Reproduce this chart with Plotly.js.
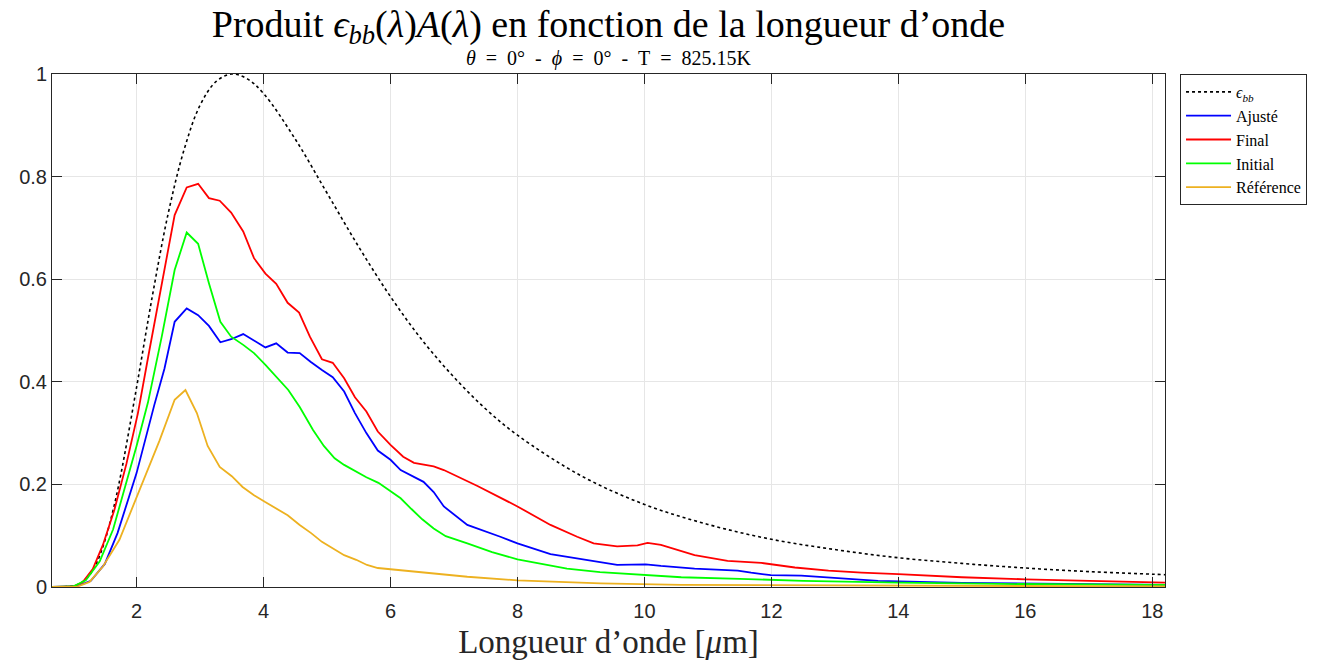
<!DOCTYPE html>
<html>
<head>
<meta charset="utf-8">
<script src="https://cdn.plot.ly/plotly-3.0.1.min.js"></script>
<style>html,body{margin:0;padding:0;background:#fff;}#chart{width:1330px;height:663px;}</style>
</head>
<body>
<div id="chart"></div>
<script>
// Wavelength [µm] and values
const lamBB = [0.67, 0.8, 1.0, 1.1, 1.25, 1.375, 1.5, 1.625, 1.75, 2.0, 2.25, 2.5, 2.75, 3.0, 3.25, 3.5, 3.75, 4.0, 4.5, 5.0, 5.5, 6.0, 6.5, 7.0, 7.5, 8.0, 9.0, 10, 11, 12, 13, 14, 15, 16, 17, 18, 18.2];
const valBB = [0, 0.0001, 0.002, 0.006, 0.022, 0.048, 0.090, 0.147, 0.218, 0.389, 0.568, 0.729, 0.853, 0.939, 0.985, 1.0, 0.990, 0.962, 0.873, 0.768, 0.663, 0.566, 0.481, 0.409, 0.347, 0.296, 0.217, 0.161, 0.122, 0.093, 0.073, 0.057, 0.046, 0.037, 0.030, 0.025, 0.024];

const lamAdj = [0.67, 1.05, 1.28, 1.5, 1.7, 1.91, 2.0, 2.28, 2.44, 2.6, 2.79, 2.97, 3.14, 3.32, 3.49, 3.68, 3.85, 4.03, 4.2, 4.38, 4.57, 4.74, 4.92, 5.09, 5.27, 5.44, 5.62, 5.8, 6.0, 6.16, 6.52, 6.68, 6.84, 7.21, 7.73, 8.0, 8.52, 9.05, 9.57, 10.02, 10.26, 10.79, 11.47, 11.68, 11.99, 12.47, 13.0, 13.68, 15.0, 16.5, 18.2];
const valAdj = [0, 0.001, 0.012, 0.045, 0.105, 0.185, 0.222, 0.355, 0.426, 0.517, 0.543, 0.530, 0.509, 0.477, 0.483, 0.493, 0.480, 0.467, 0.475, 0.457, 0.456, 0.439, 0.423, 0.409, 0.381, 0.339, 0.300, 0.266, 0.248, 0.228, 0.205, 0.185, 0.157, 0.121, 0.098, 0.085, 0.064, 0.053, 0.043, 0.044, 0.041, 0.036, 0.032, 0.028, 0.023, 0.022, 0.018, 0.012, 0.008, 0.006, 0.004];

const lamFinal = [0.67, 1.0, 1.15, 1.31, 1.47, 1.65, 1.84, 2.02, 2.2, 2.4, 2.6, 2.79, 2.97, 3.14, 3.31, 3.49, 3.68, 3.85, 4.03, 4.2, 4.38, 4.56, 4.73, 4.92, 5.09, 5.27, 5.44, 5.62, 5.8, 6.0, 6.2, 6.37, 6.68, 6.84, 7.37, 8.0, 8.52, 8.94, 9.2, 9.57, 9.89, 10.05, 10.26, 10.79, 11.31, 11.84, 12.37, 12.9, 13.42, 14.0, 15.0, 16.0, 17.0, 18.2];
const valFinal = [0, 0.001, 0.009, 0.035, 0.082, 0.150, 0.240, 0.338, 0.460, 0.592, 0.725, 0.779, 0.786, 0.758, 0.753, 0.730, 0.693, 0.641, 0.611, 0.591, 0.554, 0.535, 0.488, 0.444, 0.437, 0.407, 0.370, 0.342, 0.303, 0.277, 0.254, 0.242, 0.235, 0.228, 0.197, 0.157, 0.121, 0.098, 0.085, 0.079, 0.081, 0.086, 0.082, 0.062, 0.051, 0.047, 0.038, 0.032, 0.028, 0.025, 0.019, 0.015, 0.012, 0.0085];

const lamInit = [0.67, 1.0, 1.2, 1.42, 1.63, 1.81, 2.0, 2.18, 2.4, 2.6, 2.79, 2.97, 3.14, 3.32, 3.49, 3.68, 3.85, 4.03, 4.2, 4.39, 4.57, 4.78, 4.95, 5.12, 5.27, 5.44, 5.62, 5.81, 5.98, 6.16, 6.33, 6.5, 6.68, 6.87, 7.21, 7.6, 8.0, 8.78, 9.3, 10.02, 10.58, 11.5, 12.5, 14.0, 15.6, 18.2];
const valInit = [0, 0.001, 0.013, 0.050, 0.112, 0.190, 0.275, 0.360, 0.49, 0.618, 0.691, 0.669, 0.592, 0.517, 0.488, 0.472, 0.456, 0.433, 0.410, 0.384, 0.351, 0.306, 0.275, 0.251, 0.238, 0.226, 0.214, 0.203, 0.189, 0.173, 0.152, 0.132, 0.114, 0.099, 0.085, 0.068, 0.054, 0.036, 0.029, 0.023, 0.019, 0.016, 0.012, 0.0085, 0.006, 0.004];

const lamRef = [0.67, 1.05, 1.26, 1.47, 1.73, 2.0, 2.36, 2.6, 2.77, 2.95, 3.12, 3.31, 3.5, 3.67, 3.85, 4.02, 4.19, 4.38, 4.57, 4.75, 4.92, 5.1, 5.27, 5.46, 5.63, 5.8, 6.16, 7.21, 8.0, 9.31, 10.58, 12.5, 15, 18.2];
const valRef = [0, 0.0, 0.01, 0.04, 0.092, 0.176, 0.285, 0.365, 0.384, 0.339, 0.275, 0.234, 0.216, 0.195, 0.179, 0.166, 0.154, 0.140, 0.121, 0.105, 0.088, 0.074, 0.062, 0.053, 0.043, 0.037, 0.033, 0.020, 0.013, 0.007, 0.004, 0.003, 0.002, 0.001];

const xTicks = [2, 4, 6, 8, 10, 12, 14, 16, 18];
const yTicks = [0, 0.2, 0.4, 0.6, 0.8, 1];
const yTickText = ['0', '0.2', '0.4', '0.6', '0.8', '1'];

const serif = 'Liberation Serif, Times New Roman, serif';
const sans = 'Liberation Sans, Arial, Helvetica, sans-serif';

const traces = [
  {x: lamBB, y: valBB, name: '<i>ϵ</i><sub><i>bb</i></sub>', mode: 'lines', line: {color: '#000000', width: 1.6, dash: 'dot', shape: 'spline'}},
  {x: lamAdj, y: valAdj, name: 'Ajusté', mode: 'lines', line: {color: '#0000FF', width: 1.8}},
  {x: lamFinal, y: valFinal, name: 'Final', mode: 'lines', line: {color: '#FF0000', width: 1.8}},
  {x: lamInit, y: valInit, name: 'Initial', mode: 'lines', line: {color: '#00FF00', width: 1.8}},
  {x: lamRef, y: valRef, name: 'Référence', mode: 'lines', line: {color: '#EDB120', width: 1.8}}
];

const axisCommon = {
  showline: true, linecolor: '#262626', linewidth: 1, mirror: 'ticks',
  ticks: 'inside', ticklen: 10, tickcolor: '#262626', tickwidth: 1,
  showgrid: true, gridcolor: '#E6E6E6', gridwidth: 1, zeroline: false,
  tickfont: {family: sans, size: 20, color: '#262626'}
};

const layout = {
  width: 1330, height: 663,
  margin: {l: 52, r: 165, t: 74, b: 76},
  paper_bgcolor: '#ffffff', plot_bgcolor: '#ffffff',
  title: {
    text: 'Produit <i>ϵ</i><sub><i>bb</i></sub>(<i>λ</i>)<i>A</i>(<i>λ</i>) en fonction de la longueur d’onde',
    font: {family: serif, size: 38, color: '#000000'},
    x: 0.5, xref: 'paper', xanchor: 'center',
    y: 0.965, yref: 'container', yanchor: 'middle'
  },
  xaxis: Object.assign({}, axisCommon, {
    range: [0.668, 18.2], tickmode: 'array', tickvals: xTicks, ticklabelstandoff: 6,
    title: {text: 'Longueur d’onde [<i>μ</i>m]', font: {family: serif, size: 33, color: '#262626'}, standoff: 8}
  }),
  yaxis: Object.assign({}, axisCommon, {
    range: [0, 1], tickmode: 'array', tickvals: yTicks, ticktext: yTickText
  }),
  legend: {
    x: 1.0135, xref: 'paper', xanchor: 'left', y: 1, yref: 'paper', yanchor: 'top',
    bgcolor: '#ffffff', bordercolor: '#262626', borderwidth: 1,
    font: {family: serif, size: 16, color: '#000000'},
    itemwidth: 45, tracegroupgap: 0
  },
  annotations: [{
    text: '<i>θ</i>&nbsp;&nbsp;=&nbsp;&nbsp;0° &nbsp;-&nbsp; <i>ϕ</i>&nbsp;&nbsp;=&nbsp;&nbsp;0° &nbsp;-&nbsp; T&nbsp;&nbsp;=&nbsp;&nbsp;825.15K',
    xref: 'paper', yref: 'paper', x: 0.5, y: 1.031, xanchor: 'center', yanchor: 'middle',
    showarrow: false, font: {family: serif, size: 20, color: '#000000'}
  }],
  showlegend: true
};

Plotly.newPlot('chart', traces, layout, {staticPlot: true, displayModeBar: false});
</script>
</body>
</html>
